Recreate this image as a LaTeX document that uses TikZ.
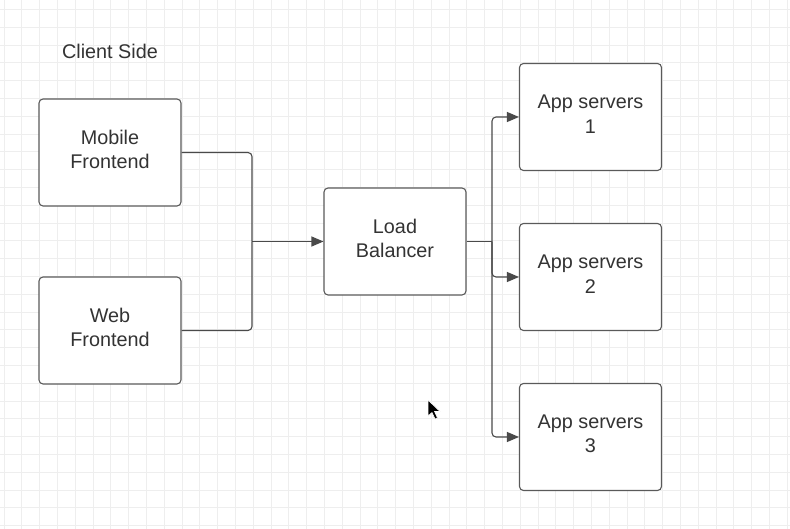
\documentclass[tikz,border=0pt]{standalone}
\usepackage{fontspec}
\setmainfont{Liberation Sans}
\usetikzlibrary{arrows.meta}
\definecolor{gridc}{HTML}{EEEEEE}
\definecolor{boxc}{HTML}{5A5A5A}
\definecolor{txtc}{HTML}{333333}
\definecolor{linec}{HTML}{4A4A4A}
\tikzset{
  gridline/.style={draw=gridc, line width=0.9pt},
  box/.style={draw=boxc, line width=1.1pt, rounded corners=4pt, fill=white,
    minimum width=142pt, minimum height=107pt, inner sep=0pt},
  boxtext/.style={text=txtc, align=center, inner sep=0pt,
    font=\fontsize{19.8}{24.5}\selectfont},
  label/.style={text=txtc, font=\fontsize{19.8}{24}\selectfont},
  conn/.style={draw=linec, line width=1.1pt, rounded corners=4pt},
  arr/.style={conn, -{Triangle[length=12pt,width=10pt]}},
}
\begin{document}
\begin{tikzpicture}[x=1pt,y=-1pt]
\useasboundingbox[fill=white] (0,0) rectangle (790,529);
\foreach \i in {0,...,45} {\draw[gridline] (4.1+17.8*\i,0) -- (4.1+17.8*\i,529);}
\foreach \j in {0,...,30} {\draw[gridline] (0,9.5+17.8*\j) -- (790,9.5+17.8*\j);}

\node[label] (cs) at (110,51) {Client Side};
\node[box] (mob) at (110,152.5) {};
\node[box] (web) at (110,330.5) {};
\node[box] (lb) at (395,241.5) {};
\node[box] (a1) at (590.5,117) {};
\node[box] (a2) at (590.5,277) {};
\node[box] (a3) at (590.5,437) {};
\node[boxtext] (mobt) at ([yshift=3pt]mob.center) {Mobile\\Frontend};
\node[boxtext] (webt) at ([yshift=3pt]web.center) {Web\\Frontend};
\node[boxtext] (lbt) at ([yshift=3pt]lb.center) {Load\\Balancer};
\node[boxtext] (a1t) at ([yshift=3pt]a1.center) {App servers\\1};
\node[boxtext] (a2t) at ([yshift=3pt]a2.center) {App servers\\2};
\node[boxtext] (a3t) at ([yshift=3pt]a3.center) {App servers\\3};

\coordinate (j1) at (252,241.5);
\coordinate (j2) at (492,241.5);
\draw[conn] (mob.east) -| (j1);
\draw[conn] (web.east) -| (j1);
\draw[arr] (j1) -- (lb.west);
\draw[conn] (lb.east) -- (j2);
\draw[arr] (j2) |- (a1.west);
\draw[arr] (j2) |- (a2.west);
\draw[arr] (j2) |- (a3.west);

\filldraw[fill=black, draw=white, line width=0.6pt]
  (428,400) -- (428,416) -- (432,412.5) -- (435,419) -- (437.5,418) -- (434.5,411.5) -- (440,411.5) -- cycle;
\end{tikzpicture}
\end{document}
